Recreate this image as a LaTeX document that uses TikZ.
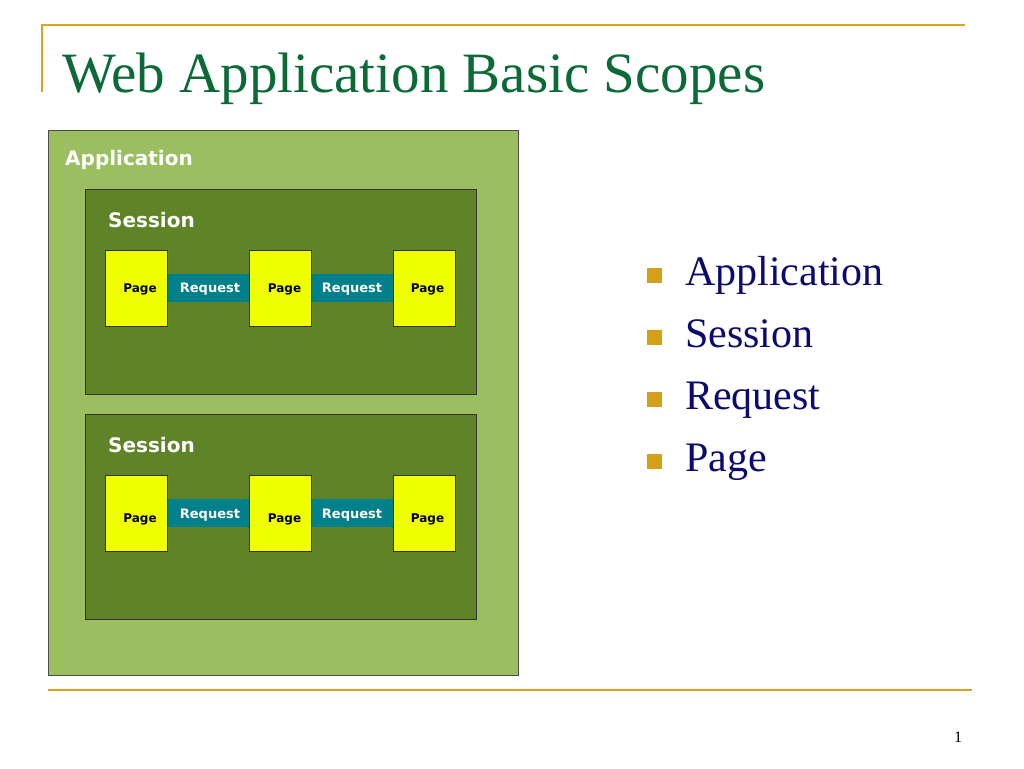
\documentclass[tikz,border=0pt]{standalone}
\usepackage{fontspec}
\setmainfont{Liberation Serif}
\newfontfamily\lblfont{DejaVu Sans}
\definecolor{gold}{HTML}{D9A520}
\definecolor{titlegreen}{HTML}{0B6A37}
\definecolor{navy}{HTML}{0A0A70}
\definecolor{appgreen}{HTML}{9BBF60}
\definecolor{sessgreen}{HTML}{5F8428}
\definecolor{pageyellow}{HTML}{F0FF00}
\definecolor{reqteal}{HTML}{00808A}
\definecolor{bulletgold}{HTML}{D4A017}
\tikzset{
  rulegold/.style={draw=gold, line width=2pt},
  appbox/.style={fill=appgreen, draw=black!70, line width=0.8pt},
  sessbox/.style={fill=sessgreen, draw=black!80, line width=0.8pt},
  pagebox/.style={fill=pageyellow, draw=black!80, line width=0.8pt},
  reqbar/.style={fill=reqteal, draw=none},
  boxlabel/.style={text=white, font=\lblfont\bfseries\fontsize{20}{21}\selectfont, anchor=base west, inner sep=0pt},
  pagelabel/.style={text=black, font=\lblfont\bfseries\fontsize{12}{13}\selectfont, anchor=base, inner sep=0pt},
  reqlabel/.style={text=white, font=\lblfont\bfseries\fontsize{13}{14}\selectfont, anchor=base, inner sep=0pt},
  bulletsq/.style={fill=bulletgold, draw=none},
  bullettext/.style={text=navy, font=\fontsize{42}{44}\selectfont, anchor=base west, inner sep=0pt},
}
\begin{document}
\begin{tikzpicture}[x=1pt,y=-1pt]
\useasboundingbox (0,0) rectangle (1024,768);
\fill[white] (0,0) rectangle (1024,768);
% frame rules
\coordinate (tl) at (42,25);
\coordinate (tr) at (965,25);
\coordinate (lv) at (42,92);
\coordinate (bl) at (48,690);
\coordinate (br) at (972,690);
\draw[rulegold] (lv) -- (tl) -- (tr);
\draw[rulegold] (bl) -- (br);
% title
\node[text=titlegreen, font=\fontsize{57}{59}\selectfont, anchor=base west, inner sep=0pt] (title) at (62,92) {Web Application Basic Scopes};
% application box
\draw[appbox] (48,130) rectangle (518,675);
\node[boxlabel] (applbl) at (65,165) {Application};
% sessions
\foreach \s/\dy/\pb/\rb in {1/0/292/292, 2/225/522/518} {
  \draw[sessbox] (85,189+\dy) rectangle (476,394+\dy);
  \node[boxlabel] (sess\s) at (108,227+\dy) {Session};
  \path[reqbar] (167,274+\dy) rectangle (250,302+\dy);
  \path[reqbar] (311,274+\dy) rectangle (393,302+\dy);
  \draw[pagebox] (105,250+\dy) rectangle (167,326+\dy);
  \draw[pagebox] (249,250+\dy) rectangle (311,326+\dy);
  \draw[pagebox] (393,250+\dy) rectangle (455,326+\dy);
  \node[pagelabel] (p\s a) at (140,\pb) {Page};
  \node[pagelabel] (p\s b) at (284.5,\pb) {Page};
  \node[pagelabel] (p\s c) at (427.5,\pb) {Page};
  \node[reqlabel] (r\s a) at (210,\rb) {Request};
  \node[reqlabel] (r\s b) at (352,\rb) {Request};
}
% bullets
\foreach \t/\y [count=\i] in {Application/285, Session/347, Request/409, Page/471} {
  \fill[bulletsq] (647,\y-17) rectangle (662,\y-2);
  \node[bullettext] (b\i) at (685,\y) {\t};
}
% page number
\node[font=\fontsize{16}{17}\selectfont, anchor=base, inner sep=0pt] (pnum) at (958,742) {1};
\end{tikzpicture}
\end{document}
